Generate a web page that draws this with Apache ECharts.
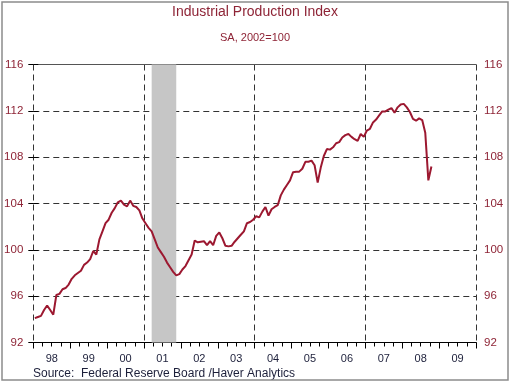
<!DOCTYPE html>
<html>
<head>
<meta charset="utf-8">
<script src="https://cdn.jsdelivr.net/npm/echarts@6/dist/echarts.min.js"></script>
<style>html,body{margin:0;padding:0;background:#fff}#c{width:510px;height:383px}</style>
</head>
<body>
<div id="c"></div>
<script>
// ---- Data (monthly, Jan 1998 onward) ----
const startYear = 1998;
const yearLabels = ['98','99','00','01','02','03','04','05','06','07','08','09'];
const yTicks = [92, 96, 100, 104, 108, 112, 116];
const recession = [[2001, 3], [2001, 11]];      // start/end month (year, month)
const ip1998 = [94.1, 94.2, 94.3, 94.8, 95.2, 94.8, 94.4, 96.1, 96.2, 96.6, 96.7, 97.0];
const ip1999 = [97.5, 97.8, 98.0, 98.2, 98.7, 98.9, 99.2, 99.9, 99.6, 100.9, 101.6, 102.3];
const ip2000 = [102.6, 103.2, 103.6, 104.1, 104.25, 103.9, 103.75, 104.25, 103.8, 103.7, 103.4, 102.7];
const ip2001 = [102.3, 101.9, 101.6, 100.9, 100.2, 99.8, 99.4, 98.9, 98.5, 98.1, 97.8, 97.9];
const ip2002 = [98.3, 98.6, 99.1, 99.6, 100.8, 100.65, 100.7, 100.75, 100.4, 100.75, 100.4, 101.2];
const ip2003 = [101.5, 101.0, 100.35, 100.3, 100.35, 100.7, 101.0, 101.3, 101.6, 102.3, 102.4, 102.6];
const ip2004 = [102.9, 102.8, 103.3, 103.7, 102.95, 103.5, 103.7, 103.85, 104.7, 105.2, 105.6, 106.0];
const ip2005 = [106.7, 106.75, 106.75, 107.0, 107.6, 107.6, 107.7, 107.3, 105.8, 107.1, 108.1, 108.7];
const ip2006 = [108.65, 108.85, 109.2, 109.3, 109.7, 109.9, 110.0, 109.75, 109.55, 109.4, 110.0, 109.75];
const ip2007 = [110.3, 110.45, 111.0, 111.25, 111.6, 111.95, 111.95, 112.1, 112.24, 111.84, 112.3, 112.55];
const ip2008 = [112.6, 112.3, 111.9, 111.3, 111.15, 111.35, 111.2, 110.1, 106.0, 107.2];

const ipValues = [].concat(ip1998, ip1999, ip2000, ip2001, ip2002, ip2003, ip2004, ip2005, ip2006, ip2007, ip2008);
const monthIdx = (y, m) => (y - startYear) * 12 + (m - 1);
const totalMonths = yearLabels.length * 12;
const seriesData = ipValues.map((v, i) => [i + 0.5, v]);

const red = '#8e2436';
const lineRed = '#9c1830';
const navy = '#1c1f3a';
const font = 'Arial, "Liberation Sans", sans-serif';
const dash = [6, 4];

const chart = echarts.init(document.getElementById('c'), null, {renderer: 'canvas'});
chart.setOption({
  backgroundColor: '#fff',
  animation: false,
  title: [
    {text: 'Industrial Production Index', left: 'center', top: 0,
     textStyle: {fontSize: 14, fontWeight: 'normal', color: red, fontFamily: font}},
    {text: 'SA, 2002=100', left: 'center', top: 27,
     textStyle: {fontSize: 11, fontWeight: 'normal', color: red, fontFamily: font}},
    {text: 'Source:  Federal Reserve Board /Haver Analytics', left: 28, top: 363,
     textStyle: {fontSize: 12, fontWeight: 'normal', color: navy, fontFamily: font}}
  ],
  graphic: [{
    type: 'rect', shape: {x: 2, y: 2, width: 506, height: 378},
    style: {fill: 'none', stroke: '#8c8c8c', lineWidth: 1.5}, silent: true, z: 100
  }],
  grid: {left: 33.3, right: 34, top: 64.5, bottom: 40.5, containLabel: false},
  xAxis: [
    {type: 'category', data: yearLabels, position: 'bottom', boundaryGap: true,
     axisLine: {show: true, lineStyle: {color: '#000', width: 1}},
     axisTick: {show: true, length: 6, alignWithLabel: false, lineStyle: {color: '#000'}},
     axisLabel: {color: navy, fontSize: 11, margin: 11, fontFamily: font},
     splitLine: {show: false}},
    {type: 'value', min: 0, max: totalMonths, interval: 3, position: 'bottom',
     axisLine: {show: false},
     axisTick: {show: true, length: 4, lineStyle: {color: '#000'}},
     axisLabel: {show: false}, splitLine: {show: false}},
    {type: 'value', min: 0, max: totalMonths, interval: 36, position: 'top',
     axisLine: {show: true, lineStyle: {color: '#555', width: 1}},
     axisTick: {show: false}, axisLabel: {show: false},
     splitLine: {show: true, lineStyle: {type: dash, color: '#333', width: 1}}}
  ],
  yAxis: [
    {type: 'value', min: yTicks[0], max: yTicks[yTicks.length - 1], interval: 4, position: 'left',
     axisLine: {show: false},
     axisTick: {show: true, length: 5, lineStyle: {color: '#000'}},
     axisLabel: {color: red, fontSize: 11.5, margin: 10, fontFamily: font},
     splitLine: {show: true, lineStyle: {type: dash, color: '#333', width: 1}}},
    {type: 'value', min: yTicks[0], max: yTicks[yTicks.length - 1], interval: 4, position: 'right',
     axisLine: {show: false},
     axisTick: {show: true, length: 5, lineStyle: {color: '#000'}},
     axisLabel: {color: red, fontSize: 11.5, margin: 8, fontFamily: font},
     splitLine: {show: false}}
  ],
  series: [
    {type: 'line', xAxisIndex: 1, yAxisIndex: 0, data: [], z: 1, silent: true,
     markArea: {silent: true, itemStyle: {color: '#c6c6c6'},
       data: [[{xAxis: monthIdx(recession[0][0], recession[0][1]) + 0.5},
               {xAxis: monthIdx(recession[1][0], recession[1][1]) + 0.5}]]}},
    {type: 'line', name: 'IP', xAxisIndex: 1, yAxisIndex: 0, data: seriesData, z: 3,
     showSymbol: false, symbol: 'none',
     lineStyle: {color: lineRed, width: 2}}
  ]
});
</script>
</body>
</html>
